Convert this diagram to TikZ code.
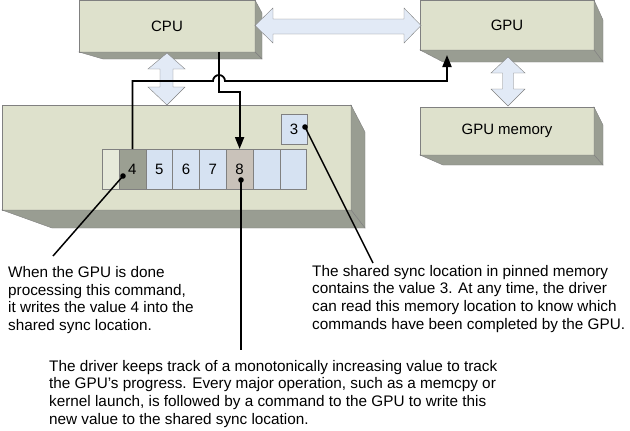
\documentclass[tikz,border=0pt]{standalone}
\usepackage{fontspec}
\setmainfont{Liberation Sans}
\usetikzlibrary{positioning,calc,arrows.meta}
\definecolor{boxfront}{RGB}{222,225,204}
\definecolor{boxside}{RGB}{153,157,146}
\definecolor{edgegray}{RGB}{128,128,128}
\definecolor{cellblue}{RGB}{214,226,242}
\definecolor{celldark}{RGB}{155,159,146}
\definecolor{celltan}{RGB}{201,194,186}
\definecolor{cellpale}{RGB}{230,233,218}
\definecolor{arrowblue}{RGB}{226,234,246}
\begin{document}
\begin{tikzpicture}[x=1pt,y=-1pt,>={Triangle[length=12pt,width=9pt]},
  front/.style={draw=edgegray,fill=boxfront,inner sep=0pt,outer sep=0pt,font=\fontsize{15}{17}\selectfont},
  face/.style={draw=edgegray,fill=boxside},
  cell/.style={draw=edgegray,fill=cellblue,minimum width=26.8pt,minimum height=40pt,inner sep=0pt,outer sep=0pt,font=\fontsize{15}{17}\selectfont},
  bigarrow/.style={draw=edgegray,fill=arrowblue},
  wire/.style={line width=1.8pt},
  callout/.style={line width=1.5pt},
  note/.style={align=left,inner sep=0pt,font=\fontsize{15.3}{17.6}\selectfont}]
  \useasboundingbox (0,0) rectangle (630,431);

  % CPU, GPU and GPU memory
  \node[front,minimum width=176pt,minimum height=52pt] (cpu) at (167,26) {CPU};
  \draw[face] (cpu.north east) -- ++(7,13) -- ++(0,46) -- (cpu.south east) -- cycle;
  \draw[face] (cpu.south west) -- (cpu.south east) -- ++(7,7) -- ($(cpu.south west)+(24,7)$) -- cycle;

  \node[front,minimum width=174pt,minimum height=50pt] (gpu) at (507,25) {GPU};
  \draw[face] (gpu.north east) -- ++(9,20) -- ++(0,42) -- (gpu.south east) -- cycle;
  \draw[face] (gpu.south west) -- (gpu.south east) -- ++(9,12) -- ($(gpu.south west)+(23,12)$) -- cycle;

  \node[front,minimum width=174pt,minimum height=48pt] (gpumem) at (507,131) {GPU memory};
  \draw[face] (gpumem.north east) -- ++(9,18) -- ++(0,40) -- (gpumem.south east) -- cycle;
  \draw[face] (gpumem.south west) -- (gpumem.south east) -- ++(9,10) -- ($(gpumem.south west)+(23,10)$) -- cycle;

  % pinned memory
  \node[front,minimum width=349pt,minimum height=105pt] (pinned) at (176.5,157.5) {};
  \draw[face] (pinned.north east) -- ++(14,27) -- ++(0,96) -- (pinned.south east) -- cycle;
  \draw[face] (pinned.south west) -- (pinned.south east) -- ++(14,18) -- ($(pinned.south west)+(50,18)$) -- cycle;

  % block arrows
  \draw[bigarrow] (255,25.5) -- (273,8) -- (273,19) -- (404,19) -- (404,8) -- (421,25.5)
    -- (404,43) -- (404,34) -- (273,34) -- (273,43) -- cycle;
  \draw[bigarrow] (167,53) -- (185,69) -- (173,69) -- (173,87) -- (185,87) -- (167,105)
    -- (148,87) -- (160,87) -- (160,69) -- (148,69) -- cycle;
  \draw[bigarrow] (508,57) -- (525,73) -- (513.5,73) -- (513.5,89) -- (525,89) -- (508,106)
    -- (491,89) -- (502.5,89) -- (502.5,73) -- (491,73) -- cycle;

  % command buffer
  \node[cell,fill=cellpale,minimum width=17pt] (c0) at (110.5,169) {};
  \node[cell,fill=celldark,right=0pt of c0] (c4) {4};
  \node[cell,right=0pt of c4] (c5) {5};
  \node[cell,right=0pt of c5] (c6) {6};
  \node[cell,right=0pt of c6] (c7) {7};
  \node[cell,fill=celltan,right=0pt of c7] (c8) {8};
  \node[cell,right=0pt of c8] (c9) {};
  \node[cell,right=0pt of c9] (c10) {};
  \node[cell,minimum width=26pt,minimum height=30pt] (s3) at (294,129) {3};

  % wires
  \coordinate (cpuout) at (219,52);
  \coordinate (gpuin) at (447,55);
  \draw[wire,->] (cpuout) -- ++(0,40) -| (c8.north);
  \draw[wire,->] (c4.north) |- (213,81) arc[start angle=180,end angle=360,radius=6] -| (gpuin);

  % callouts
  \coordinate (d4) at (123,176);
  \coordinate (d8) at (241,180);
  \coordinate (d3) at (305,127);
  \coordinate (t4) at (53,256);
  \coordinate (t8) at (241,350);
  \coordinate (t3) at (373,263);
  \fill (d4) circle (2.8) (d8) circle (2.8) (d3) circle (2.8);
  \draw[callout] (d4) -- (t4);
  \draw[callout] (d8) -- (t8);
  \draw[callout] (d3) -- (t3);

  \node[note,anchor=base west] (leftnote) at (8,330.5) {When the GPU is done\\processing this command,\\it writes the value 4 into the\\shared sync location.};
  \node[note,anchor=base west] (rightnote) at (312,329) {The shared sync location in pinned memory\\contains the value 3. At any time, the driver\\can read this memory location to know which\\commands have been completed by the GPU.};
  \node[note,anchor=base west] (bottomnote) at (49,424) {The driver keeps track of a monotonically increasing value to track\\the GPU’s progress. Every major operation, such as a memcpy or\\kernel launch, is followed by a command to the GPU to write this\\new value to the shared sync location.};
\end{tikzpicture}
\end{document}
